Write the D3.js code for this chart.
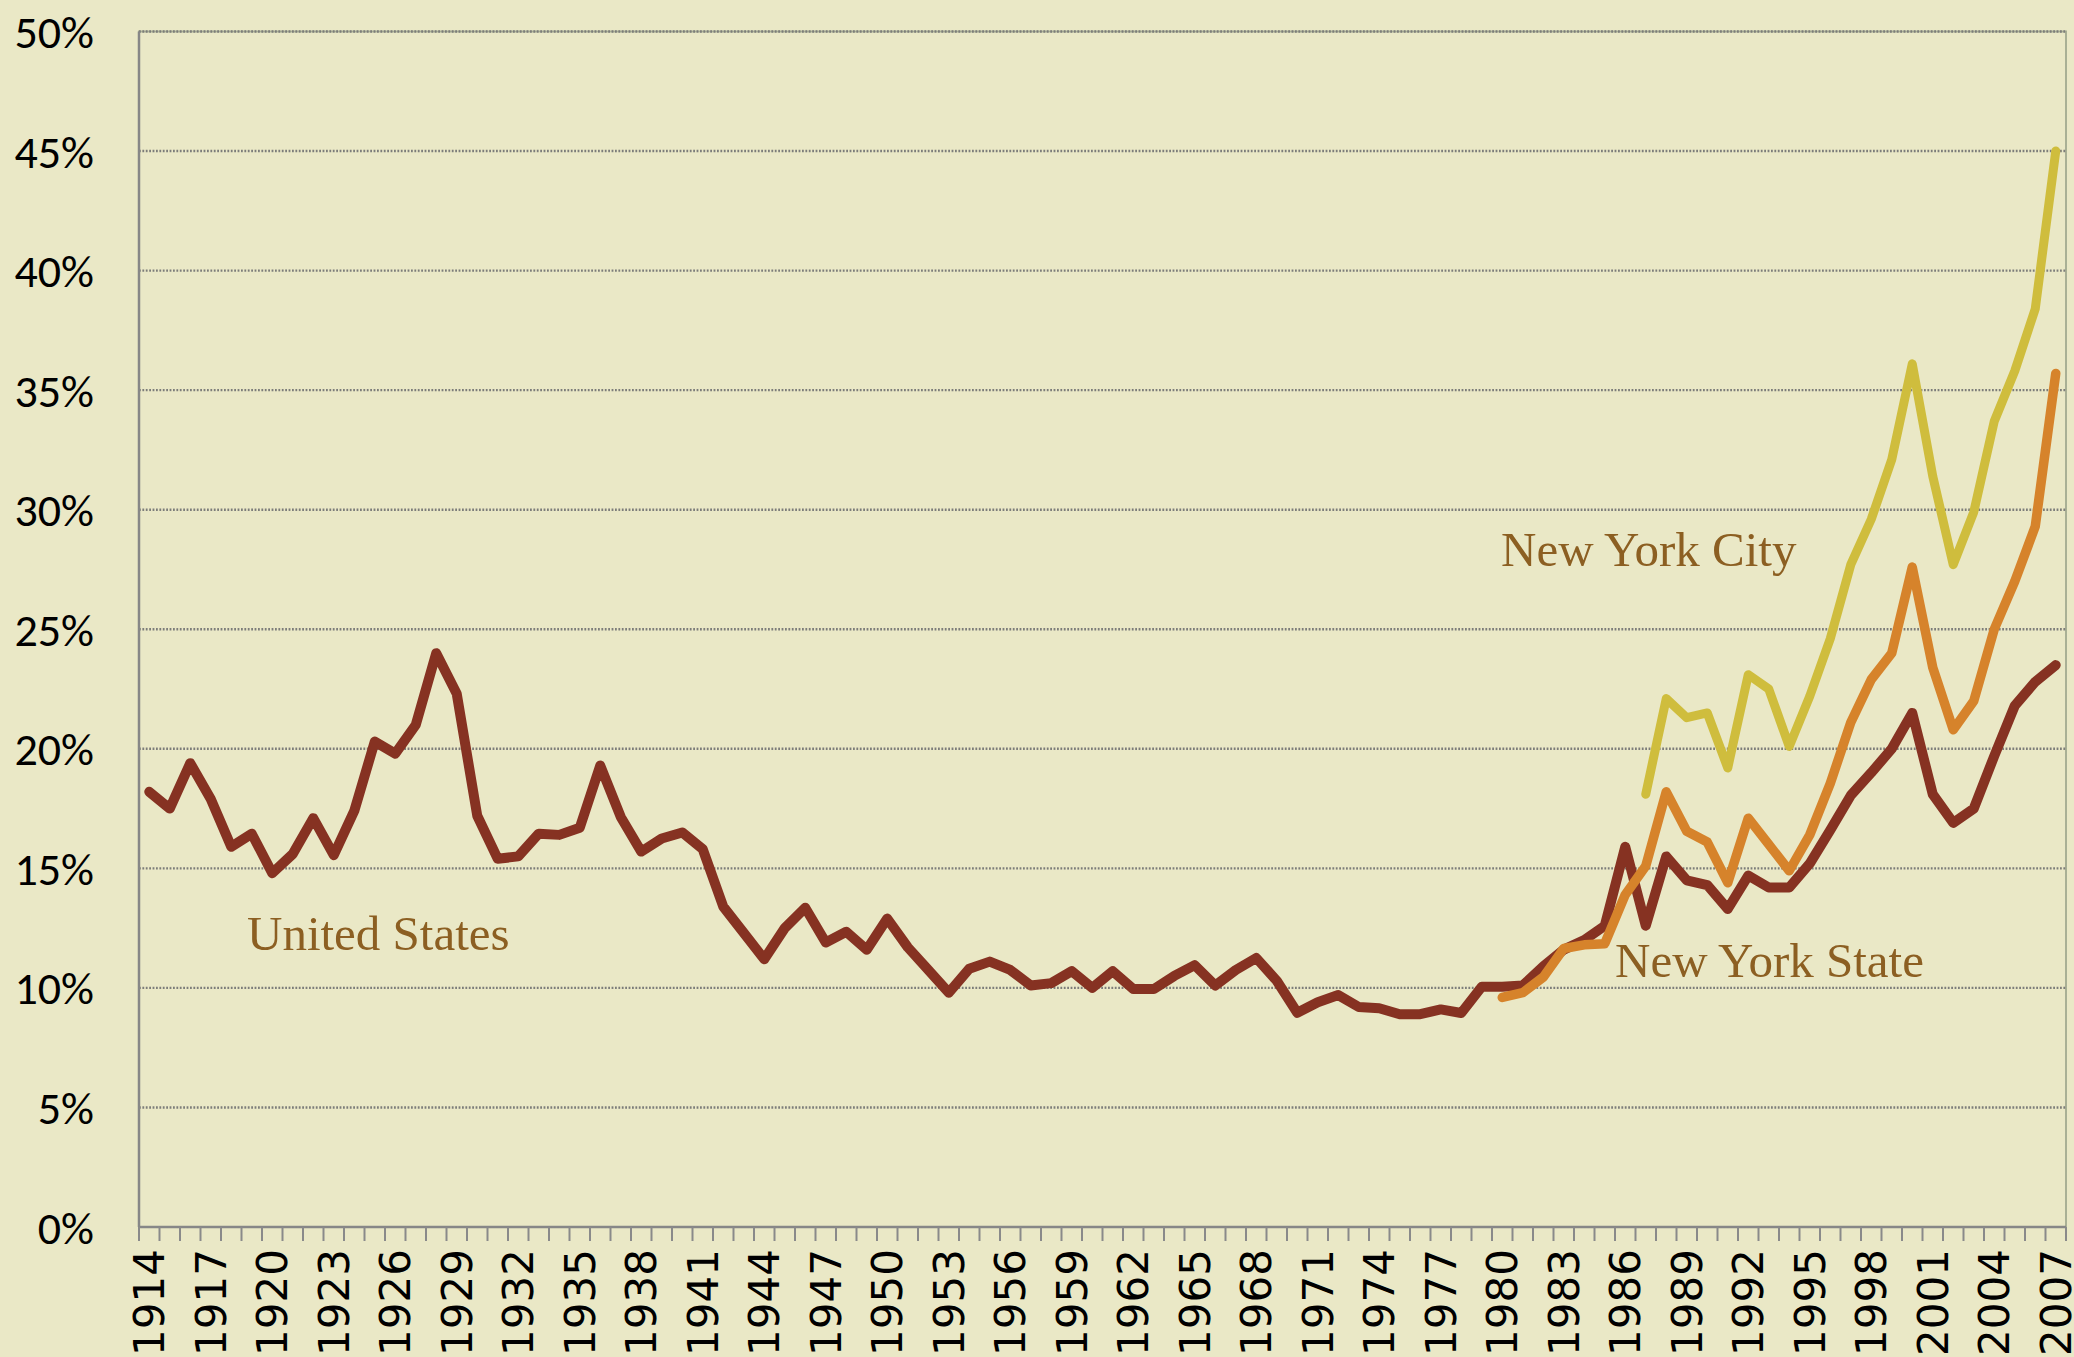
<!DOCTYPE html>
<html lang="en">

<head>
    <meta charset="UTF-8">
    <title>Share of income, US / NY State / NYC</title>
    <script src="https://d3js.org/d3.v7.min.js"></script>
    <style>
        body {
            margin: 0;
            background: #eae8c6;
        }

        .grid line {
            stroke: #7d7d7a;
            stroke-width: 2.4;
            stroke-dasharray: 1.8, 1.6;
        }

        .series {
            fill: none;
            stroke-linejoin: round;
            stroke-linecap: round;
        }

        .ylab {
            font-family: Calibri, Carlito, Lato, sans-serif;
            font-size: 46px;
            fill: #000;
        }

        .xlab {
            font-family: "DejaVu Sans", sans-serif;
            font-size: 42px;
            fill: #000;
        }

        .name {
            font-family: "Times New Roman", "Liberation Serif", serif;
            font-size: 49px;
            fill: #8c5f22;
        }
    </style>
</head>

<body>
    <script>
        // years on the category axis
        var years = d3.range(1914, 2008);

        // United States, 1914-2007 (percent)
        var usValues = [18.2, 17.5, 19.4, 17.9, 15.9, 16.45, 14.8, 15.6, 17.1, 15.55,
            17.4, 20.3, 19.8, 21.0, 24.0, 22.3, 17.2, 15.4, 15.5, 16.45,
            16.4, 16.7, 19.3, 17.15, 15.7, 16.25, 16.5, 15.8, 13.4, 12.3,
            11.2, 12.5, 13.35, 11.9, 12.35, 11.6, 12.9, 11.7, 10.75, 9.8,
            10.8, 11.1, 10.75, 10.1, 10.2, 10.7, 10.0, 10.7, 9.95, 9.95,
            10.5, 10.95, 10.1, 10.75, 11.25, 10.3, 8.96, 9.4, 9.7, 9.2,
            9.15, 8.9, 8.9, 9.1, 8.95, 10.05, 10.05, 10.1, 10.9, 11.6,
            12.0, 12.6, 15.9, 12.6, 15.5, 14.5, 14.3, 13.3, 14.7, 14.2,
            14.2, 15.2, 16.6, 18.05, 19.0, 20.0, 21.5, 18.1, 16.9, 17.5,
            19.7, 21.8, 22.8, 23.5];

        // New York State, 1980-2007
        var nysStart = 1980;
        var nysValues = [9.6, 9.8, 10.45, 11.65, 11.8, 11.85, 13.9, 15.1, 18.2, 16.55,
            16.1, 14.4, 17.1, 16.0, 14.9, 16.4, 18.55, 21.1, 22.9, 24.0,
            27.6, 23.4, 20.8, 22.0, 25.0, 27.0, 29.3, 35.7];

        // New York City, 1987-2007
        var nycStart = 1987;
        var nycValues = [18.1, 22.1, 21.3, 21.5, 19.2, 23.1, 22.5, 20.1, 22.2, 24.6,
            27.7, 29.6, 32.1, 36.1, 31.4, 27.7, 29.9, 33.7, 35.8, 38.4,
            45.0];

        var yTicks = [0, 5, 10, 15, 20, 25, 30, 35, 40, 45, 50];

        var W = 2074, H = 1357;
        var plotLeft = 139, plotRight = 2066, plotTop = 31.5, plotBottom = 1227;

        var svg = d3.select("body").append("svg")
            .attr("width", W).attr("height", H);

        svg.append("rect").attr("width", W).attr("height", H).attr("fill", "#eae8c6");

        var x = d3.scaleBand().domain(years).range([plotLeft, plotRight]).padding(0);
        var y = d3.scaleLinear().domain([0, 50]).range([plotBottom, plotTop]);
        var cx = function (yr) { return x(yr) + x.bandwidth() / 2; };

        // plot border (top / right)
        svg.append("rect")
            .attr("x", plotLeft).attr("y", plotTop)
            .attr("width", plotRight - plotLeft).attr("height", plotBottom - plotTop)
            .attr("fill", "none").attr("stroke", "#a9b095").attr("stroke-width", 2);

        // dotted gridlines
        svg.append("g").attr("class", "grid")
            .selectAll("line").data(yTicks.slice(1)).enter()
            .append("line")
            .attr("x1", plotLeft).attr("x2", plotRight)
            .attr("y1", function (d) { return y(d); })
            .attr("y2", function (d) { return y(d); });

        // y labels
        svg.append("g").selectAll("text").data(yTicks).enter()
            .append("text").attr("class", "ylab")
            .attr("x", 94).attr("y", function (d) { return y(d); })
            .attr("dy", "0.36em").attr("text-anchor", "end")
            .text(function (d) { return d + "%"; });

        // axis lines
        svg.append("line").attr("x1", plotLeft).attr("x2", plotLeft).attr("y1", plotTop).attr("y2", plotBottom)
            .attr("stroke", "#878787").attr("stroke-width", 2.5);
        svg.append("line").attr("x1", plotLeft).attr("x2", plotRight).attr("y1", plotBottom).attr("y2", plotBottom)
            .attr("stroke", "#878787").attr("stroke-width", 2.5);

        // ticks between categories
        var tickPos = years.map(function (yr) { return x(yr); }).concat([plotRight]);
        svg.append("g").selectAll("line").data(tickPos).enter()
            .append("line")
            .attr("x1", function (d) { return d; }).attr("x2", function (d) { return d; })
            .attr("y1", plotBottom).attr("y2", plotBottom + 14)
            .attr("stroke", "#8a8a8a").attr("stroke-width", 2);

        // year labels, every third
        var labelYears = years.filter(function (d, i) { return i % 3 === 0; });
        svg.append("g").selectAll("text").data(labelYears).enter()
            .append("text").attr("class", "xlab")
            .attr("text-anchor", "end")
            .attr("dy", "0.36em")
            .attr("transform", function (d) { return "translate(" + cx(d) + "," + (plotBottom + 22) + ") rotate(-90)"; })
            .text(function (d) { return d; });

        var line = d3.line()
            .x(function (d) { return cx(d.year); })
            .y(function (d) { return y(d.value); });

        function toPoints(start, vals) {
            return vals.map(function (v, i) { return { year: start + i, value: v }; });
        }

        svg.append("path").attr("class", "series")
            .attr("d", line(toPoints(1914, usValues)))
            .attr("stroke", "#863222").attr("stroke-width", 10);

        svg.append("path").attr("class", "series")
            .attr("d", line(toPoints(nysStart, nysValues)))
            .attr("stroke", "#d6832b").attr("stroke-width", 9.5);

        svg.append("path").attr("class", "series")
            .attr("d", line(toPoints(nycStart, nycValues)))
            .attr("stroke", "#cfbd3d").attr("stroke-width", 9);

        // series names
        svg.append("text").attr("class", "name").attr("x", 247).attr("y", 950).text("United States");
        svg.append("text").attr("class", "name").attr("x", 1501).attr("y", 566).text("New York City");
        svg.append("text").attr("class", "name").attr("x", 1615).attr("y", 977).text("New York State");
    </script>
</body>

</html>
